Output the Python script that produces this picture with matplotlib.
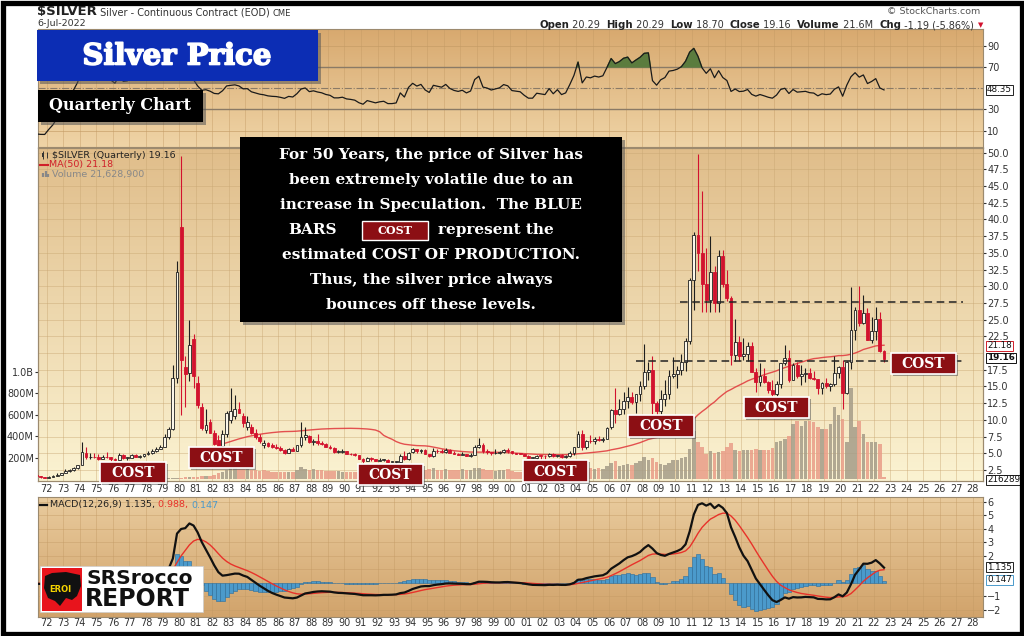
import matplotlib
matplotlib.use("Agg")
import matplotlib.pyplot as plt
import numpy as np
import pandas as pd
from matplotlib.colors import LinearSegmentedColormap
from matplotlib.patches import Rectangle, Polygon
from matplotlib.offsetbox import TextArea, HPacker, AnchoredOffsetbox
import matplotlib.patheffects as pe

plt.rcParams['font.family'] = 'DejaVu Sans'

W, H = 1024, 636

# quarterly $SILVER data, first quarter = 1970 Q1 (one line per year)
first_year = 1970
opens = [
    1.80, 1.87, 1.65, 1.80,  1.64, 1.72, 1.55, 1.40,  1.37, 1.50, 1.62, 1.80,  2.04, 2.30, 2.55, 2.85,
    3.28, 5.00, 4.40, 4.50,  4.40, 4.20, 4.50, 4.40,  4.20, 4.00, 4.70, 4.30,  4.35, 4.75, 4.50, 4.55,
    4.85, 5.05, 5.30, 5.70,  6.00, 7.40, 8.60, 16.20,  38.90, 17.90, 17.00, 22.10,  15.50, 12.00, 8.50, 9.70,
    8.10, 7.00, 6.10, 7.90,  10.00, 10.60, 11.70, 10.60,  8.90, 9.00, 8.10, 7.50,  6.30, 6.50, 6.20, 6.00,
    5.80, 5.50, 5.10, 5.60,  5.40, 6.20, 7.40, 7.60,  6.70, 6.90, 6.60, 6.40,  6.00, 5.80, 5.20, 5.20,
    5.30, 4.95, 4.85, 4.70,  4.20, 3.90, 4.30, 4.10,  3.90, 4.00, 4.05, 3.70,  3.70, 3.75, 4.60, 4.10,
    5.20, 5.60, 5.30, 5.50,  4.90, 4.60, 5.40, 5.30,  5.20, 5.50, 5.10, 4.90,  4.80, 4.90, 4.65, 4.80,
    5.90, 6.30, 5.30, 5.20,  5.00, 5.10, 5.20, 5.50,  5.40, 5.00, 4.95, 4.90,  4.60, 4.35, 4.35, 4.65,
    4.60, 4.55, 4.90, 4.55,  4.80, 4.45, 4.55, 5.10,  6.00, 7.90, 5.90, 6.90,  6.80, 7.10, 7.00, 7.20,
    8.90, 11.50, 10.90, 11.60,  12.90, 13.40, 12.70, 13.80,  15.00, 17.20, 17.50, 12.50,  11.30, 13.10, 13.90, 16.60,
    16.90, 17.50, 18.70, 21.80,  30.90, 37.70, 35.00, 30.40,  27.90, 32.20, 27.50, 34.50,  30.30, 28.30, 19.70, 21.70,
    19.50, 19.80, 21.00, 17.10,  15.60, 16.60, 15.60, 14.50,  13.80, 15.40, 18.50, 19.20,  16.00, 18.20, 16.60, 16.80,
    17.00, 16.30, 16.10, 14.70,  15.50, 15.10, 15.30, 17.00,  17.90, 14.00, 18.70, 23.50,  26.40, 24.50, 26.00, 22.00,
    23.30, 25.10, 20.30,
]
highs = [
    1.95, 1.90, 1.85, 1.85,  1.75, 1.75, 1.60, 1.45,  1.55, 1.70, 2.00, 2.10,  2.60, 2.70, 3.00, 3.30,
    6.70, 5.90, 5.00, 5.00,  4.90, 4.75, 5.20, 4.50,  4.30, 5.00, 4.90, 4.50,  4.90, 4.85, 4.70, 4.95,
    5.30, 5.70, 6.00, 6.20,  7.90, 9.00, 18.20, 33.80,  49.50, 19.50, 25.00, 22.80,  16.50, 12.50, 11.70, 10.20,
    8.50, 7.80, 8.50, 11.30,  14.70, 13.70, 12.70, 11.00,  10.60, 9.40, 8.60, 7.90,  7.00, 6.70, 6.50, 6.40,
    6.10, 5.60, 5.80, 5.90,  6.30, 9.70, 9.00, 7.70,  7.20, 7.90, 6.90, 6.60,  6.20, 5.90, 5.50, 5.70,
    5.40, 5.10, 5.00, 4.80,  4.30, 4.50, 4.40, 4.20,  4.30, 4.10, 4.10, 3.90,  3.80, 4.90, 5.40, 5.20,
    5.80, 5.70, 5.60, 5.60,  4.90, 5.80, 5.60, 5.60,  5.80, 5.60, 5.30, 5.10,  5.20, 4.90, 5.10, 6.20,
    7.30, 6.50, 5.60, 5.20,  5.60, 5.40, 5.60, 5.80,  5.40, 5.10, 5.10, 4.90,  4.70, 4.50, 4.70, 4.70,
    4.80, 5.10, 5.00, 4.80,  4.90, 4.70, 5.30, 5.90,  8.30, 8.50, 7.00, 7.80,  7.50, 7.60, 7.40, 9.00,
    11.60, 14.80, 13.20, 14.20,  14.90, 14.20, 13.90, 15.80,  21.30, 18.70, 19.50, 12.90,  14.50, 16.00, 17.40, 19.40,
    18.00, 19.80, 22.20, 31.30,  38.20, 49.80, 44.20, 35.70,  37.50, 33.00, 35.40, 35.40,  32.50, 28.60, 25.10, 22.60,
    22.20, 21.60, 21.60, 17.80,  18.50, 17.80, 15.80, 16.00,  15.80, 18.50, 21.20, 20.40,  18.50, 18.70, 18.20, 17.70,
    17.70, 17.30, 16.10, 15.70,  16.20, 15.50, 19.60, 18.10,  18.90, 18.80, 29.90, 26.90,  30.10, 28.70, 26.70, 25.40,
    26.90, 26.20, 20.50,
]
lows = [
    1.75, 1.60, 1.60, 1.60,  1.55, 1.50, 1.30, 1.29,  1.35, 1.45, 1.60, 1.75,  2.00, 2.20, 2.40, 2.70,
    3.20, 4.10, 4.20, 4.30,  4.00, 4.20, 4.30, 3.90,  3.85, 3.95, 4.20, 4.05,  4.30, 4.40, 4.35, 4.40,
    4.80, 4.90, 5.20, 5.60,  5.90, 7.20, 8.50, 15.50,  10.80, 12.00, 15.80, 14.70,  11.80, 8.50, 8.10, 8.00,
    6.30, 4.90, 5.00, 7.50,  9.50, 10.20, 11.00, 8.90,  8.50, 7.90, 7.20, 6.60,  5.80, 6.00, 5.80, 5.70,
    5.40, 4.95, 5.00, 5.30,  5.30, 6.00, 7.00, 6.50,  6.30, 6.20, 6.30, 5.90,  5.60, 5.10, 5.00, 5.00,
    4.90, 4.80, 4.60, 4.10,  3.60, 3.85, 3.90, 3.80,  3.90, 3.90, 3.65, 3.65,  3.50, 3.70, 4.00, 4.00,
    5.00, 5.10, 5.10, 4.90,  4.40, 4.50, 5.00, 5.00,  5.10, 5.00, 4.90, 4.70,  4.70, 4.65, 4.50, 4.70,
    5.80, 5.10, 4.90, 4.80,  4.90, 4.90, 5.00, 5.10,  4.95, 4.90, 4.85, 4.60,  4.30, 4.30, 4.10, 4.10,
    4.20, 4.50, 4.50, 4.40,  4.35, 4.35, 4.50, 4.80,  5.90, 5.50, 5.60, 6.60,  6.40, 6.80, 6.70, 7.20,
    8.70, 9.60, 10.70, 10.90,  11.80, 12.40, 11.00, 12.90,  14.60, 16.00, 10.90, 8.50,  10.90, 12.10, 13.10, 16.20,
    14.70, 16.70, 17.30, 21.30,  26.40, 32.30, 26.10, 26.10,  26.10, 26.10, 26.10, 29.90,  27.80, 18.20, 18.80, 18.80,
    18.90, 18.80, 17.10, 14.20,  15.00, 15.50, 14.00, 13.60,  13.60, 14.70, 18.20, 15.60,  15.90, 16.20, 15.20, 15.60,
    16.10, 16.00, 13.90, 13.90,  14.80, 14.30, 15.00, 16.30,  11.60, 13.80, 17.60, 21.90,  24.00, 24.30, 21.90, 21.50,
    22.00, 20.10, 18.70,
]
closes = [
    1.87, 1.65, 1.80, 1.64,  1.72, 1.55, 1.40, 1.37,  1.50, 1.62, 1.80, 2.04,  2.30, 2.55, 2.85, 3.28,
    5.17, 4.40, 4.50, 4.40,  4.20, 4.50, 4.40, 4.20,  4.00, 4.70, 4.30, 4.35,  4.75, 4.50, 4.55, 4.85,
    5.05, 5.30, 5.70, 6.00,  7.40, 8.60, 16.20, 32.20,  18.90, 16.90, 21.20, 16.50,  12.20, 8.80, 9.20, 8.10,
    6.40, 6.10, 7.90, 11.00,  11.40, 11.70, 11.10, 9.60,  9.70, 8.10, 7.50, 6.90,  6.60, 6.10, 5.90, 5.80,
    5.50, 5.10, 5.60, 5.40,  6.20, 7.40, 7.70, 6.70,  6.90, 6.60, 6.40, 6.00,  5.80, 5.20, 5.20, 5.30,
    4.95, 4.85, 4.70, 4.20,  3.90, 4.30, 4.10, 3.90,  4.00, 4.05, 3.70, 3.70,  3.75, 4.60, 4.10, 5.10,
    5.60, 5.30, 5.50, 4.90,  4.60, 5.40, 5.30, 5.20,  5.50, 5.10, 4.90, 4.80,  4.90, 4.65, 4.80, 5.90,
    6.30, 5.30, 5.20, 5.00,  5.10, 5.20, 5.50, 5.40,  5.00, 4.95, 4.90, 4.60,  4.35, 4.35, 4.65, 4.60,
    4.55, 4.90, 4.55, 4.80,  4.45, 4.55, 5.10, 5.90,  7.90, 5.90, 6.90, 6.80,  7.10, 7.00, 7.20, 8.80,
    11.50, 10.90, 11.60, 12.90,  13.40, 12.70, 13.80, 15.00,  17.20, 17.50, 12.50, 11.30,  13.10, 13.90, 16.60, 16.90,
    17.50, 18.70, 21.80, 30.90,  37.70, 35.00, 30.40, 27.90,  32.20, 27.50, 34.50, 30.30,  28.30, 19.70, 21.70, 19.50,
    19.80, 21.00, 17.10, 15.60,  16.60, 15.60, 14.50, 13.80,  15.40, 18.50, 19.20, 16.00,  18.20, 16.60, 16.80, 17.00,
    16.30, 16.10, 14.70, 15.50,  15.10, 15.30, 17.00, 17.90,  14.00, 18.70, 23.50, 26.40,  24.50, 26.00, 22.00, 23.30,
    25.10, 20.30, 19.16,
]
# quarterly volume in millions
volumes = [
    4, 4, 4, 4,  4, 4, 4, 4,  5, 5, 5, 5,  6, 6, 7, 7,
    8, 8, 8, 8,  8, 8, 8, 8,  8, 8, 8, 8,  8, 8, 8, 9,
    9, 9, 10, 10,  10, 11, 12, 14,  15, 18, 20, 22,  25, 28, 30, 35,
    40, 55, 70, 87,  110, 115, 100, 95,  100, 90, 85, 80,  85, 75, 70, 70,
    65, 68, 65, 70,  90, 117, 95, 85,  95, 90, 85, 80,  80, 75, 75, 70,
    72, 70, 65, 68,  75, 80, 70, 65,  60, 62, 60, 58,  70, 90, 95, 100,
    110, 100, 95, 90,  100, 105, 90, 85,  95, 90, 85, 90,  95, 90, 85, 105,
    110, 100, 90, 85,  80, 85, 90, 95,  75, 70, 68, 65,  60, 58, 55, 52,
    55, 60, 58, 55,  55, 60, 70, 80,  117, 150, 110, 110,  100, 110, 100, 125,
    150, 170, 125, 135,  140, 135, 150, 170,  210, 185, 200, 160,  140, 135, 155, 180,
    185, 200, 210, 280,  455, 350, 300, 240,  260, 250, 255, 260,  300, 340, 270, 260,
    270, 270, 275, 280,  270, 270, 275, 290,  350, 360, 380, 400,  516, 547, 500, 540,
    547, 531, 485, 470,  470, 516, 670, 600,  560, 347, 854, 485,  547, 424, 347, 347,
    347, 332, 21.6,
]
year_labels = [f"{y % 100:02d}" for y in range(1972, 2029)]
price_ticks = [2.5, 5.0, 7.5, 10.0, 12.5, 15.0, 17.5, 22.5, 25.0, 27.5, 30.0, 32.5,
               35.0, 37.5, 40.0, 42.5, 45.0, 47.5, 50.0]
cost_levels = [(2010.3, 2027.4, 27.6), (2007.6, 2027.6, 18.8)]

o, h, l, c = (np.array(v, dtype=float) for v in (opens, highs, lows, closes))
vol = np.array(volumes, dtype=float)
xq = first_year + np.arange(len(c)) * 0.25 + 0.125

# indicators, computed the way StockCharts does
cs = pd.Series(c)
ma50 = cs.rolling(50).mean()
delta = cs.diff()
gain = delta.clip(lower=0).ewm(alpha=1 / 14, adjust=False).mean()
loss = (-delta.clip(upper=0)).ewm(alpha=1 / 14, adjust=False).mean()
rsi = (100 - 100 / (1 + gain / loss)).to_numpy()
macd = cs.ewm(span=12, adjust=False).mean() - cs.ewm(span=26, adjust=False).mean()
signal = macd.ewm(span=9, adjust=False).mean()
hist = macd - signal

XLIM = (1971.47, 2028.61)
years = np.arange(1972, 2029)
RED = '#d2122e'

fig = plt.figure(figsize=(W / 100, H / 100), dpi=100)
fig.patch.set_facecolor('white')


def px_rect(x0, y0, x1, y1):
    return [x0 / W, 1 - y1 / H, (x1 - x0) / W, (y1 - y0) / H]


def shade(ax, top, bottom):
    cmap = LinearSegmentedColormap.from_list('bg', [top, bottom])
    ax.imshow(np.linspace(0, 1, 256).reshape(-1, 1), cmap=cmap, aspect='auto',
              extent=(0, 1, 0, 1), transform=ax.transAxes, zorder=0, origin='upper')


def style(ax):
    for s in ax.spines.values():
        s.set_color('#9c8a6e')
        s.set_linewidth(0.8)
    ax.tick_params(labelsize=7, colors='#333333', length=2, pad=1)


# ---- RSI panel
ax_r = fig.add_axes(px_rect(38, 29, 983, 147))
shade(ax_r, '#d8a96f', '#efd4a6')
for yr in years:
    ax_r.axvline(yr, color='#c39a64', lw=0.5, alpha=0.6, zorder=0.5)
for lev in (10, 90):
    ax_r.axhline(lev, color='#c39a64', lw=0.6, alpha=0.7)
for lev in (30, 70):
    ax_r.axhline(lev, color='#8a7a66', lw=1.0)
ax_r.axhline(50, color='#8a7a66', lw=0.8, ls='-.')
ax_r.fill_between(xq, rsi, 70, where=rsi > 70, interpolate=True, color='#5b7c3e', zorder=2)
ax_r.plot(xq, rsi, color='#1a1a1a', lw=0.9, zorder=3)
ax_r.set_xlim(XLIM)
ax_r.set_ylim(-5.3, 105.7)
ax_r.yaxis.tick_right()
ax_r.set_yticks([10, 30, 70, 90])
ax_r.set_xticks([])
style(ax_r)

# ---- main panel: volume underneath, price on top
ax_v = fig.add_axes(px_rect(38, 148, 983, 481))
shade(ax_v, '#e0bd8a', '#fbf3d2')
VLIM = (-15, 3085)
PLIM = (0.85, 50.7)
for yr in years:
    ax_v.axvline(yr, color='#c8a672', lw=0.5, alpha=0.6, zorder=0.5)
for p in np.arange(2.5, 50.1, 2.5):
    frac = (p - PLIM[0]) / (PLIM[1] - PLIM[0])
    ax_v.axhline(VLIM[0] + frac * (VLIM[1] - VLIM[0]), color='#c8a672', lw=0.5, alpha=0.6, zorder=0.5)
vcol = ['#a59c88' if i == 0 or c[i] >= c[i - 1] else '#e99d88' for i in range(len(c))]
ax_v.bar(xq, vol, width=0.21, color=vcol, alpha=0.85, lw=0, zorder=2)
ax_v.set_xlim(XLIM)
ax_v.set_ylim(VLIM)
ax_v.set_yticks([200, 400, 600, 800, 1000])
ax_v.set_yticklabels(['200M', '400M', '600M', '800M', '1.0B'])
ax_v.set_xticks(years)
ax_v.set_xticklabels(year_labels)
style(ax_v)
ax_v.tick_params(axis='x', length=0, pad=2)

ax_p = fig.add_axes(px_rect(38, 148, 983, 481))
ax_p.patch.set_alpha(0)
ax_p.plot(xq, ma50, color='#e0353a', lw=1.0, alpha=0.85, zorder=2)
up = c >= o
wick_col = np.where(up, '#1e1e1e', RED)
ax_p.vlines(xq, l, h, colors=wick_col, lw=0.8, zorder=3)
body_lo = np.minimum(o, c)
body_h = np.maximum(np.abs(c - o), 0.08)
ax_p.bar(xq[up], body_h[up], bottom=body_lo[up], width=0.17, color='#fbf6e8',
         edgecolor='#1e1e1e', lw=0.6, zorder=4)
ax_p.bar(xq[~up], body_h[~up], bottom=body_lo[~up], width=0.17, color=RED,
         edgecolor=RED, lw=0.6, zorder=4)
for x0, x1, lev in cost_levels:
    ax_p.hlines(lev, x0, x1, colors='#222222', linestyles=(0, (5, 3)), lw=1.1, zorder=5)
ax_p.set_xlim(XLIM)
ax_p.set_ylim(PLIM)
ax_p.yaxis.tick_right()
ax_p.set_yticks(price_ticks)
ax_p.set_yticklabels([f'{v:.1f}' for v in price_ticks])
ax_p.set_xticks([])
style(ax_p)

# ---- MACD panel
ax_m = fig.add_axes(px_rect(38, 497, 983, 617))
shade(ax_m, '#e9cb9d', '#d1a36b')
for yr in years:
    ax_m.axvline(yr, color='#c39a64', lw=0.5, alpha=0.6, zorder=0.5)
for lev in range(-2, 7):
    ax_m.axhline(lev, color='#c39a64', lw=0.5, alpha=0.6, zorder=0.5)
ax_m.bar(xq, hist, width=0.25, color='#4b9acb', edgecolor='#2b6d9c', lw=0.4, zorder=2)
ax_m.plot(xq, signal, color='#e8322a', lw=1.0, zorder=3)
ax_m.plot(xq, macd, color='#111111', lw=1.6, zorder=4)
ax_m.set_xlim(XLIM)
ax_m.set_ylim(-2.52, 6.35)
ax_m.yaxis.tick_right()
ax_m.set_yticks([-2, -1, 2, 3, 4, 5, 6])
ax_m.set_xticks(years)
ax_m.set_xticklabels(year_labels)
style(ax_m)
ax_m.tick_params(axis='x', length=0, pad=1)

# ---- overlay in pixel coordinates
ov = fig.add_axes([0, 0, 1, 1])
ov.set_xlim(0, W)
ov.set_ylim(H, 0)
ov.axis('off')
ov.patch.set_visible(False)


def box(x0, y0, x1, y1, fc, ec='none', lw=0, shadow=0, z=5):
    if shadow:
        ov.add_patch(Rectangle((x0 + shadow, y0 + shadow), x1 - x0, y1 - y0,
                               fc='#555555', alpha=0.55, lw=0, zorder=z - 0.1))
    ov.add_patch(Rectangle((x0, y0), x1 - x0, y1 - y0, fc=fc, ec=ec, lw=lw, zorder=z))


def rich(pieces, x, y, loc='center left'):
    kids = [TextArea(t, textprops=kw) for t, kw in pieces]
    pack = HPacker(children=kids, align='baseline', pad=0, sep=0)
    ab = AnchoredOffsetbox(loc=loc, child=pack, pad=0, borderpad=0, frameon=False,
                           bbox_to_anchor=(x, y), bbox_transform=ov.transData)
    ab.set_zorder(10)
    ov.add_artist(ab)


serif = dict(family='DejaVu Serif', weight='bold', color='white')

# header
rich([('$SILVER', dict(fontsize=9.5, weight='bold', color='#222')),
      (' Silver - Continuous Contract (EOD) ', dict(fontsize=7, color='#333')),
      ('CME', dict(fontsize=6, color='#333'))], 37, 12)
ov.text(37, 23, '6-Jul-2022', fontsize=6.8, color='#333', va='center')
ov.text(980, 12, '\u00a9 StockCharts.com', fontsize=6.8, color='#555', ha='right', va='center')
b = dict(fontsize=7.3, weight='bold', color='#222')
n = dict(fontsize=7, color='#333')
rich([('Open', b), (' 20.29  ', n), ('High', b), (' 20.29  ', n), ('Low', b), (' 18.70  ', n),
      ('Close', b), (' 19.16  ', n), ('Volume', b), (' 21.6M  ', n), ('Chg', b),
      (' -1.19 (-5.86%)', n)], 974, 25, loc='center right')
ov.text(978, 25, '\u25bc', fontsize=5, color=RED, ha='left', va='center')

# title boxes
box(37, 30, 318, 81, '#0c2db4', shadow=3, z=6)
ov.text(177, 56, 'Silver Price', fontsize=21, ha='center', va='center', zorder=7,
        path_effects=[pe.withStroke(linewidth=1.2, foreground='white')], **serif)
box(38, 90, 203, 122, 'black', shadow=3, z=6)
ov.text(120, 106, 'Quarterly Chart', fontsize=11.5, ha='center', va='center', zorder=7, **serif)

# main legend
ov.vlines([43, 47], [151, 152], [159, 158], colors='#333', lw=0.7, zorder=8)
ov.add_patch(Rectangle((42, 153), 2, 4, fc='#333', lw=0, zorder=8))
ov.text(52, 155, '$SILVER (Quarterly) 19.16', fontsize=6.8, color='#222', va='center', zorder=8)
ov.plot([40, 48], [164.5, 164.5], color='#d0202a', lw=1.5, zorder=8)
ov.text(49, 164.5, 'MA(50) 21.18', fontsize=6.8, color='#d0202a', va='center', zorder=8)
ov.vlines([43, 45.5, 48], [177, 177, 177], [173, 171, 174], colors='#888', lw=1.6, zorder=8)
ov.text(52, 174, 'Volume 21,628,900', fontsize=6.8, color='#888', va='center', zorder=8)

# commentary box
box(240, 137, 622, 322, 'black', shadow=3, z=6)
lines = [
    (155, 'For 50 Years, the price of Silver has'),
    (180, 'been extremely volatile due to an'),
    (205, 'increase in Speculation.  The BLUE'),
    (255, 'estimated COST OF PRODUCTION.'),
    (280, 'Thus, the silver price always'),
    (305, 'bounces off these levels.'),
]
for yy, s in lines:
    ov.text(431, yy, s, fontsize=11, ha='center', va='center', zorder=7, **serif)
ov.text(313, 230, 'BARS', fontsize=11, ha='center', va='center', zorder=7, **serif)
ov.text(438, 230, 'represent the', fontsize=11, ha='left', va='center', zorder=7, **serif)
box(362, 221, 428, 240, '#8c0f14', ec='white', lw=1.0, z=7)
ov.text(395, 230.5, 'COST', fontsize=8, ha='center', va='center', zorder=8, **serif)

# cost of production boxes
cost_boxes = [(100, 462, 166, 483), (189, 447, 254, 468), (358, 464, 423, 485), (523, 460, 588, 482),
              (628, 415, 694, 437), (744, 397, 809, 418), (891, 353, 956, 374)]
for x0, y0, x1, y1 in cost_boxes:
    box(x0, y0, x1, y1, '#8c0f14', ec='white', lw=1.2, shadow=2, z=6)
    ov.text((x0 + x1) / 2, (y0 + y1) / 2 + 0.5, 'COST', fontsize=10, ha='center', va='center',
            zorder=7, **serif)


# right-hand value tags
def tag(y, s, ec, weight='normal'):
    ov.text(987, y, s, fontsize=6.3, ha='left', va='center', color='#111', weight=weight, zorder=9,
            bbox=dict(boxstyle='square,pad=0.1', fc='white', ec=ec, lw=0.7))


tag(90, '48.35', '#222')
tag(346, '21.18', '#d0202a')
tag(358, '19.16', '#111', weight='bold')
tag(480, '216289', '#222')
tag(567, '1.135', '#222')
tag(580, '0.147', '#4b9acb')

# MACD legend
ov.plot([40, 47], [505, 505], color='#111', lw=1.6, zorder=8)
rich([('MACD(12,26,9) 1.135, ', dict(fontsize=6.8, color='#222')),
      ('0.988, ', dict(fontsize=6.8, color='#e8322a')),
      ('0.147', dict(fontsize=6.8, color='#4b9acb'))], 50, 505)

# SRSrocco logo
box(40, 566, 203, 612, 'white', ec='#cccccc', lw=0.5, z=8)
ov.add_patch(Rectangle((42, 568), 40, 43, fc='#e8141c', lw=0, zorder=9))
ov.add_patch(Polygon([(45, 576), (52, 573), (66, 572), (80, 575), (81, 586), (77, 596), (72, 600),
                      (66, 598), (60, 606), (55, 601), (48, 598), (44, 588)],
                     closed=True, fc='#111', lw=0, zorder=9.5))
ov.text(60, 590, 'EROI', fontsize=6, weight='bold', color='#f5d400', ha='center', va='center', zorder=10)
ov.text(86, 579, 'SRSrocco', fontsize=14.5, weight='bold', color='#111', ha='left', va='center', zorder=10)
ov.text(85, 599, 'REPORT', fontsize=17, weight='bold', color='#111', ha='left', va='center', zorder=10)

# outer frame
ov.add_patch(Rectangle((2.5, 2.5), W - 5, H - 5, fill=False, ec='black', lw=3.8, zorder=20,
                       clip_on=False))

fig.savefig('out.png', dpi=100, facecolor='white')
